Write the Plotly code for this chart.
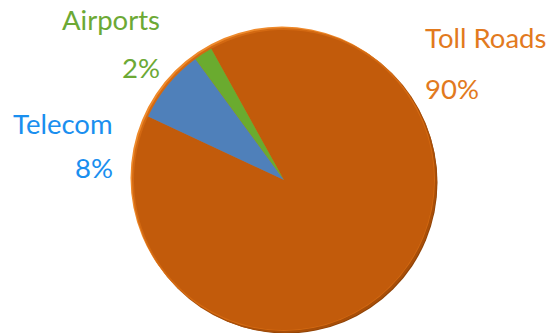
import plotly.graph_objects as go

# Portfolio split by sector
categories = ["Toll Roads", "Telecom", "Airports"]
values = [90, 8, 2]
label_colors = ["#E27A1E", "#1A8FEF", "#6CA935"]
slice_colors = ["#C25B0B", "#4F80BA", "#6AAB2F"]

W, H = 548, 333
cx, cy, R = 284, 180, 150  # pie centre and radius in pixels (from top-left)


def px_x(x):
    return x / W


def px_y(y):
    return 1 - y / H


total = sum(values)
pct = [f"{round(v * 100 / total)}%" for v in values]

fig = go.Figure()
fig.add_trace(go.Pie(
    labels=categories,
    values=values,
    sort=False,
    direction="clockwise",
    rotation=-29,
    marker=dict(colors=slice_colors, line=dict(width=0)),
    textinfo="none",
    hoverinfo="label+percent",
    showlegend=False,
    domain=dict(x=[px_x(cx - R), px_x(cx + R)], y=[px_y(cy + R), px_y(cy - R)]),
))


def disc(x, y, r, color):
    return dict(type="circle", xref="paper", yref="paper", layer="below",
                x0=px_x(x - r), x1=px_x(x + r), y0=px_y(y + r), y1=px_y(y - r),
                fillcolor=color, line=dict(width=0))


# rim shading: dark edge lower right, light edge upper left
shapes = [
    disc(cx + 2.5, cy + 2.5, 151, "#8E4206"),
    disc(cx + 1, cy + 1, 152, "#A84E08"),
    disc(cx - 2, cy - 2, 151.5, "#EE8A2C"),
    disc(cx - 0.5, cy - 0.5, 151.5, "#D36912"),
]

# label / percentage positions (pixels): (x, anchor, label_y, pct_y)
label_pos = {
    "Toll Roads": (423, "left", 38, 88),
    "Telecom": (115, "right", 123, 168),
    "Airports": (162, "right", 19, 67),
}

annotations = []
for cat, p, col in zip(categories, pct, label_colors):
    x, anchor, ly, py = label_pos[cat]
    for txt, yy in ((cat, ly), (p, py)):
        annotations.append(dict(
            text=txt, x=px_x(x), y=px_y(yy), xref="paper", yref="paper",
            xanchor=anchor, yanchor="middle", showarrow=False,
            font=dict(family="Lato", size=27.5, color=col),
        ))

fig.update_layout(
    width=W, height=H,
    margin=dict(l=0, r=0, t=0, b=0),
    paper_bgcolor="white", plot_bgcolor="white",
    shapes=shapes,
    annotations=annotations,
)

fig.write_html("out.html")
